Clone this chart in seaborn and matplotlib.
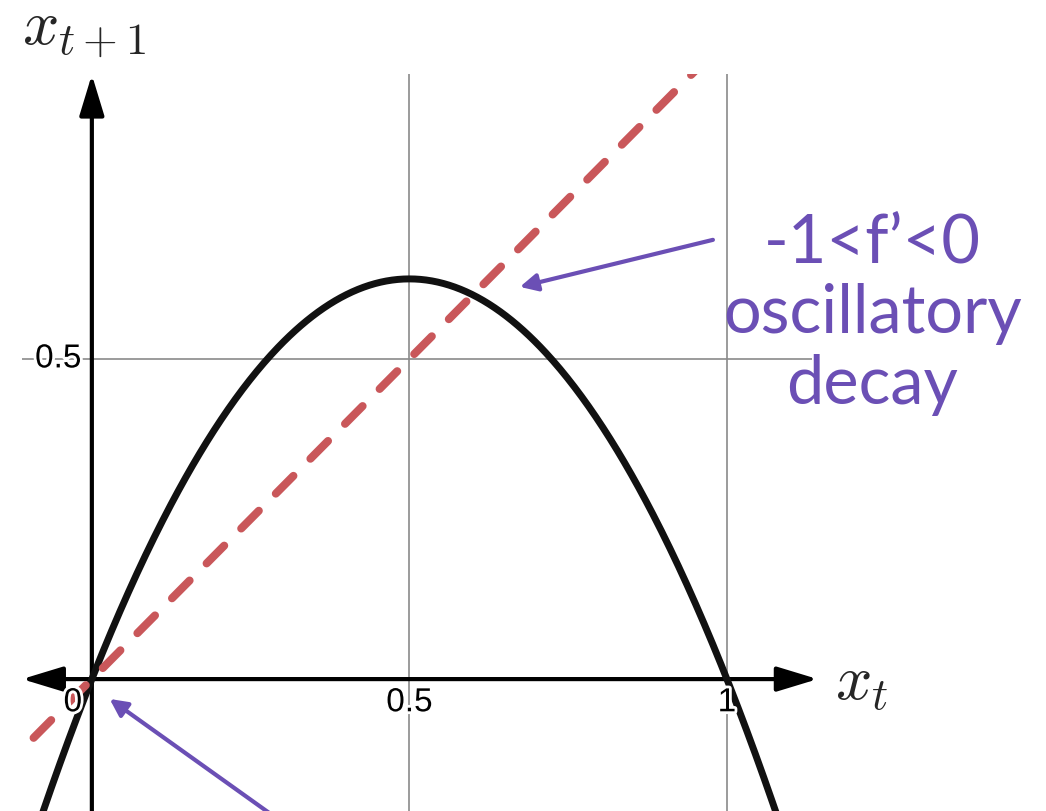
import numpy as np
import pandas as pd
import matplotlib
matplotlib.use("Agg")
import matplotlib.pyplot as plt
import matplotlib.patheffects as pe
from matplotlib.patches import ArrowStyle
import seaborn as sns

# Logistic map x_{t+1} = r * x_t * (1 - x_t)
growth_rate = 2.5
x_range = [-0.11, 1.134]
y_range = [-0.206, 0.945]
tick_values = [0, 0.5, 1]
tick_labels = ["0", "0.5", "1"]
ytick_values = [0.5]
ytick_labels = ["0.5"]
annotation_lines = ["-1<f\u2019<0", "oscillatory", "decay"]

x = np.linspace(x_range[0] - 0.05, x_range[1] + 0.05, 600)
df = pd.DataFrame({"x": x, "map": growth_rate * x * (1 - x), "identity": x})

sns.set_theme(style="white")
plt.rcParams["mathtext.fontset"] = "cm"
plt.rcParams["font.family"] = ["Liberation Sans", "DejaVu Sans"]

fig = plt.figure(figsize=(10.46, 8.11), dpi=100)
ax = fig.add_axes([22 / 1046, 0, (812 - 22) / 1046, (811 - 74) / 811])
ax.set_xlim(*x_range)
ax.set_ylim(*y_range)
ax.axis("off")

purple = "#6b4fb5"
red = "#c9575a"

# grid lines
for v in tick_values[1:]:
    ax.axvline(v, color="#8a8a8a", lw=1.2, zorder=1)
for v in ytick_values:
    ax.axhline(v, color="#8a8a8a", lw=1.2, zorder=1)

# axes with arrowheads
head = ArrowStyle("<|-|>", head_length=1.25, head_width=0.38)
ax.annotate("", xy=(1.143, 0), xytext=(-0.11, 0), xycoords="data",
            arrowprops=dict(arrowstyle=head, mutation_scale=20, lw=3, color="black",
                            shrinkA=0, shrinkB=0), annotation_clip=False, zorder=3)
uphead = ArrowStyle("-|>", head_length=1.25, head_width=0.38)
ax.annotate("", xy=(0, 0.944), xytext=(0, -0.3), xycoords="data",
            arrowprops=dict(arrowstyle=uphead, mutation_scale=20, lw=3, color="black",
                            shrinkA=0, shrinkB=0), annotation_clip=False, zorder=3)

# map curve and identity line
sns.lineplot(data=df, x="x", y="map", ax=ax, color="#111111", lw=5, zorder=4)
sns.lineplot(data=df, x="x", y="identity", ax=ax, color=red, lw=5.8, zorder=5)
idl = ax.lines[-1]
idl.set_dashes((3.1, 3.0))
idl.set_dash_capstyle("round")
ax.set_xlim(*x_range)
ax.set_ylim(*y_range)

halo = [pe.withStroke(linewidth=4, foreground="white")]
for v, lab in zip(tick_values, tick_labels):
    xx = v if v != 0 else -0.03
    ax.text(xx, -0.037, lab, ha="center", va="center", fontsize=24, color="black",
            path_effects=halo, zorder=6)
for v, lab in zip(ytick_values, ytick_labels):
    ax.text(-0.053, v, lab, ha="center", va="center", fontsize=24, color="black",
            path_effects=halo, zorder=6)

# axis names
fig.text(22 / 1046, 1 - 30 / 811, r"$x_{t+1}$", fontsize=46, ha="left", va="center")
fig.text(835 / 1046, 1 - 684 / 811, r"$x_t$", fontsize=46, ha="left", va="center")

# annotations
ax.annotate("", xy=(0.674, 0.6125), xytext=(0.978, 0.686),
            arrowprops=dict(arrowstyle="-|>", mutation_scale=26, lw=3, color=purple,
                            shrinkA=0, shrinkB=0), annotation_clip=False, zorder=7)
ax.annotate("", xy=(0.028, -0.031), xytext=(0.33, -0.245),
            arrowprops=dict(arrowstyle="-|>", mutation_scale=26, lw=3, color=purple,
                            shrinkA=0, shrinkB=0), annotation_clip=False, zorder=7)
ax.text(1.229, 0.57, "\n".join(annotation_lines), ha="center", va="center",
        fontsize=48, color=purple, family=["Lato", "DejaVu Sans"], weight="normal",
        linespacing=1.18, clip_on=False)

fig.savefig("out.png", dpi=100)
